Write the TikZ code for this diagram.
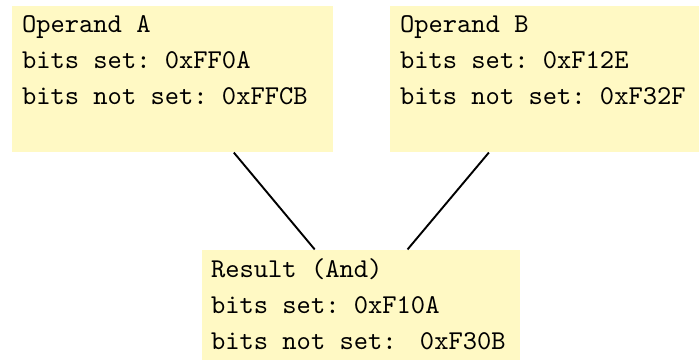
\documentclass[tikz,border=0pt]{standalone}
\usetikzlibrary{fit}
\definecolor{notefill}{RGB}{255,249,196}
\begin{document}
\begin{tikzpicture}[x=0.3676pt, y=-0.3676pt,
  notebox/.style={fill=notefill, draw=none, inner sep=0pt},
  notetext/.style={anchor=base west, inner sep=0pt, font=\ttfamily\fontsize{10pt}{13pt}\selectfont\frenchspacing},
  link/.style={draw=black, line width=0.7pt}]
  \clip (0,0) rectangle (699,360);
  % the three boxes
  \node[notebox, fit={(12,6) (333,152)}] (A) {};
  \node[notebox, fit={(390,6) (711,152)}] (B) {};
  \node[notebox, fit={(202,250) (520,360)}] (R) {};
  % connectors between box centres, cut at the box borders
  \draw[link] (A) -- (R);
  \draw[link] (B) -- (R);
  % texts
  \node[notetext] (a1) at (21.5,32.5) {Operand A};
  \node[notetext] (a2) at (21.5,69) {bits set: 0xFF0A};
  \node[notetext] (a3) at (21.5,105) {bits not set: 0xFFCB};
  \node[notetext] (b1) at (399.5,32.5) {Operand B};
  \node[notetext] (b2) at (399.5,69) {bits set: 0xF12E};
  \node[notetext] (b3) at (399.5,105) {bits not set: 0xF32F};
  \node[notetext] (r1) at (210.5,277) {Result (And)};
  \node[notetext] (r2) at (210.5,313) {bits set: 0xF10A};
  \node[notetext] (r3) at (210.5,349.5) {bits not set: \hspace{3.3pt}0xF30B};
\end{tikzpicture}
\end{document}
